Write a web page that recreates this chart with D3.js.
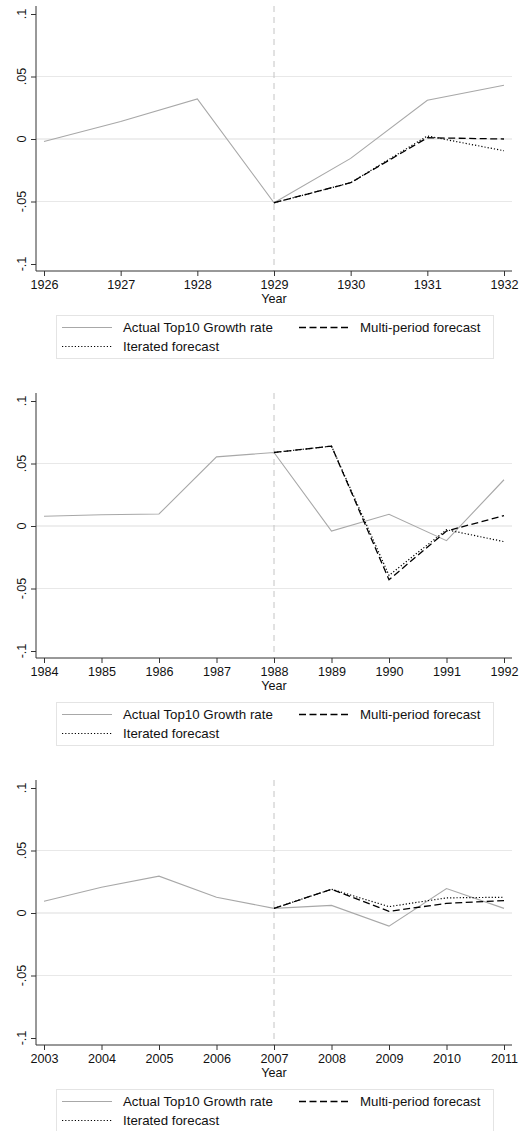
<!DOCTYPE html>
<html>
<head>
<meta charset="utf-8">
<script src="https://cdn.jsdelivr.net/npm/d3@7"></script>
<style>
  body { margin: 0; background: #fff; }
  text { font-family: "Liberation Sans", Arial, sans-serif; }
</style>
</head>
<body>
<div id="chart"></div>
<script>
// --- data ---
var yearsA = [1926, 1927, 1928, 1929, 1930, 1931, 1932];
var actualA = [-0.002, 0.014, 0.032, -0.051, -0.0155, 0.031, 0.043];
var multiA = [null, null, null, -0.051, -0.035, 0.001, 0.000];
var iterA = [null, null, null, -0.051, -0.035, 0.0024, -0.0094];

var yearsB = [1984, 1985, 1986, 1987, 1988, 1989, 1990, 1991, 1992];
var actualB = [0.0078, 0.009, 0.0096, 0.0553, 0.0588, -0.004, 0.0094, -0.0117, 0.037];
var multiB = [null, null, null, null, 0.0588, 0.0639, -0.043, -0.004, 0.0083];
var iterB = [null, null, null, null, 0.0588, 0.0639, -0.0395, -0.003, -0.0125];

var yearsC = [2003, 2004, 2005, 2006, 2007, 2008, 2009, 2010, 2011];
var actualC = [0.0094, 0.0206, 0.0295, 0.0126, 0.0037, 0.0061, -0.0105, 0.0196, 0.0037];
var multiC = [null, null, null, null, 0.0037, 0.019, 0.0013, 0.0077, 0.0099];
var iterC = [null, null, null, null, 0.0037, 0.019, 0.0051, 0.0121, 0.0126];

var forecastStart = [1929, 1988, 2007];

var yTicks = [0.1, 0.05, 0, -0.05, -0.1];
var yTickLabels = [".1", ".05", "0", "-.05", "-.1"];
var gridValues = [0.05, 0, -0.05];

var legendLabels = ["Actual Top10 Growth rate", "Multi-period forecast", "Iterated forecast"];

var panels = [
	{ years: yearsA, actual: actualA, multi: multiA, iter: iterA, start: forecastStart[0] },
	{ years: yearsB, actual: actualB, multi: multiB, iter: iterB, start: forecastStart[1] },
	{ years: yearsC, actual: actualC, multi: multiC, iter: iterC, start: forecastStart[2] }
];

// --- layout ---
var width = 519, height = 1131;
var panelStep = 387;
var plotLeft = 36, plotRight = 512, plotTop = 6, plotBottom = 271;
var tickFont = "12.6px", legendFont = "13.3px";

var svg = d3.select("#chart")
	.append("svg")
	.attr("width", width)
	.attr("height", height);

var y = d3.scaleLinear()
	.domain([-0.1, 0.1])
	.range([264, 14]);

var lineStyles = [
	{ key: "actual", stroke: "#a8a8a8", width: 1.1, dash: null },
	{ key: "multi", stroke: "#000", width: 1.3, dash: "7,3.5" },
	{ key: "iter", stroke: "#000", width: 1.2, dash: "1.2,2" }
];

panels.forEach(function(p, pi) {
	var g = svg.append("g")
		.attr("transform", "translate(0," + (pi * panelStep) + ")");

	var x = d3.scaleLinear()
		.domain(d3.extent(p.years))
		.range([44, 504]);

	// grid lines
	g.selectAll(".grid")
		.data(gridValues)
		.enter()
		.append("line")
		.attr("class", "grid")
		.attr("x1", plotLeft)
		.attr("x2", plotRight)
		.attr("y1", function(d) { return y(d); })
		.attr("y2", function(d) { return y(d); })
		.attr("stroke", "#e8e8e8")
		.attr("stroke-width", function(d) { return d === 0 ? 1.4 : 1; });

	// vertical forecast-start line
	g.append("line")
		.attr("x1", x(p.start))
		.attr("x2", x(p.start))
		.attr("y1", plotTop)
		.attr("y2", plotBottom)
		.attr("stroke", "#c4c4c4")
		.attr("stroke-width", 1)
		.attr("stroke-dasharray", "6,5");

	// series
	lineStyles.forEach(function(s) {
		var vals = p[s.key];
		var pts = p.years.map(function(yr, i) { return [yr, vals[i]]; })
			.filter(function(d) { return d[1] !== null; });
		var line = d3.line()
			.x(function(d) { return x(d[0]); })
			.y(function(d) { return y(d[1]); });
		g.append("path")
			.datum(pts)
			.attr("d", line)
			.attr("fill", "none")
			.attr("stroke", s.stroke)
			.attr("stroke-width", s.width)
			.attr("stroke-dasharray", s.dash);
	});

	// y axis
	var yAxis = d3.axisLeft(y)
		.tickValues(yTicks)
		.tickSize(5)
		.tickFormat("");
	var ya = g.append("g")
		.attr("transform", "translate(" + plotLeft + ",0)")
		.call(yAxis);
	ya.select(".domain")
		.attr("d", "M0," + plotTop + "V" + plotBottom);
	ya.selectAll("line, path").attr("stroke", "#333").attr("stroke-width", 1);

	g.selectAll(".ylab")
		.data(yTicks)
		.enter()
		.append("text")
		.attr("class", "ylab")
		.attr("transform", function(d) { return "translate(25.5," + y(d) + ") rotate(-90)"; })
		.attr("text-anchor", "middle")
		.attr("font-size", tickFont)
		.attr("fill", "#111")
		.text(function(d, i) { return yTickLabels[i]; });

	// x axis
	var xAxis = d3.axisBottom(x)
		.tickValues(p.years)
		.tickSize(5)
		.tickPadding(4.5)
		.tickFormat(d3.format("d"));
	var xa = g.append("g")
		.attr("transform", "translate(0," + plotBottom + ")")
		.call(xAxis);
	xa.select(".domain")
		.attr("d", "M" + plotLeft + ",0H" + plotRight);
	xa.selectAll("line, path").attr("stroke", "#333").attr("stroke-width", 1);
	xa.selectAll("text")
		.attr("font-family", "Liberation Sans, Arial, sans-serif")
		.attr("font-size", tickFont)
		.attr("fill", "#111");

	g.append("text")
		.attr("x", 274)
		.attr("y", 303)
		.attr("text-anchor", "middle")
		.attr("font-size", tickFont)
		.attr("fill", "#111")
		.text("Year");

	// legend
	var lg = g.append("g");
	lg.append("rect")
		.attr("x", 56.5)
		.attr("y", 315.5)
		.attr("width", 437)
		.attr("height", 43)
		.attr("fill", "#fff")
		.attr("stroke", "#e4e4e4");

	var legendPos = [
		{ x: 62, y: 327.5, s: lineStyles[0], label: legendLabels[0] },
		{ x: 299, y: 327.5, s: lineStyles[1], label: legendLabels[1] },
		{ x: 62, y: 346.5, s: lineStyles[2], label: legendLabels[2] }
	];
	legendPos.forEach(function(l) {
		lg.append("line")
			.attr("x1", l.x)
			.attr("x2", l.x + 50)
			.attr("y1", l.y)
			.attr("y2", l.y)
			.attr("stroke", l.s.stroke)
			.attr("stroke-width", l.s.width)
			.attr("stroke-dasharray", l.s.dash);
		lg.append("text")
			.attr("x", l.x + 61)
			.attr("y", l.y + 4.6)
			.attr("font-size", legendFont)
			.attr("fill", "#111")
			.text(l.label);
	});
});
</script>
</body>
</html>
